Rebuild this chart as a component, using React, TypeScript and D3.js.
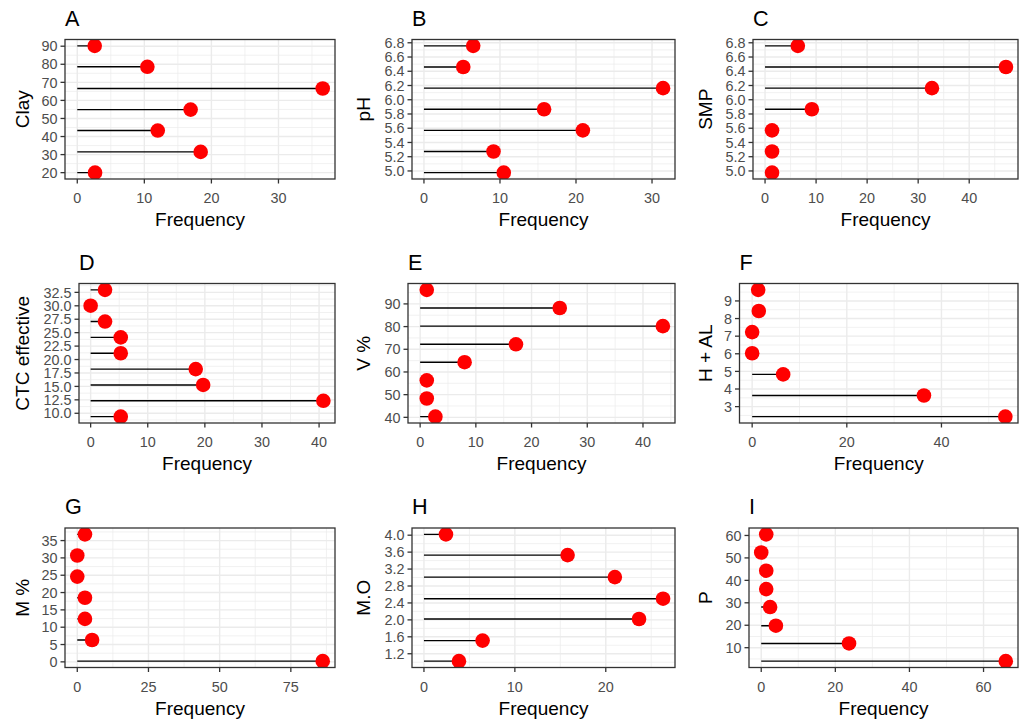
import React from 'react';
import * as d3 from 'd3';

// A - Clay
const clayMid = [20.0, 31.5, 43.3, 54.9, 66.6, 78.6, 90.2];
const clayFreq = [2.65, 18.4, 12.0, 16.9, 36.6, 10.45, 2.6];
const clayTicks = ['20', '30', '40', '50', '60', '70', '80', '90'];
const clayFreqTicks = ['0', '10', '20', '30'];

// B - pH
const phMid = [4.976, 5.273, 5.57, 5.866, 6.163, 6.46, 6.757];
const phFreq = [10.5, 9.15, 20.9, 15.8, 31.45, 5.17, 6.48];
const phTicks = ['5.0', '5.2', '5.4', '5.6', '5.8', '6.0', '6.2', '6.4', '6.6', '6.8'];
const phFreqTicks = ['0', '10', '20', '30'];

// C - SMP
const smpMid = [4.976, 5.273, 5.57, 5.866, 6.163, 6.46, 6.757];
const smpFreq = [1.37, 1.37, 1.37, 9.17, 32.7, 47.2, 6.42];
const smpTicks = ['5.0', '5.2', '5.4', '5.6', '5.8', '6.0', '6.2', '6.4', '6.6', '6.8'];
const smpFreqTicks = ['0', '10', '20', '30', '40'];

// D - CTC effective
const ctcMid = [9.37, 12.32, 15.27, 18.22, 21.17, 24.12, 27.07, 30.02, 32.97];
const ctcFreq = [5.27, 40.75, 19.7, 18.4, 5.27, 5.27, 2.52, 0, 2.52];
const ctcTicks = ['10.0', '12.5', '15.0', '17.5', '20.0', '22.5', '25.0', '27.5', '30.0', '32.5'];
const ctcFreqTicks = ['0', '10', '20', '30', '40'];

// E - V %
const vMid = [40.3, 48.3, 56.3, 64.3, 72.2, 80.2, 88.2, 96.2];
const vFreq = [2.74, 1.19, 1.19, 7.98, 17.2, 43.57, 25.06, 1.19];
const vTicks = ['40', '50', '60', '70', '80', '90'];
const vFreqTicks = ['0', '10', '20', '30', '40'];

// F - H + AL
const halMid = [2.43, 3.63, 4.83, 6.03, 7.23, 8.43, 9.63];
const halFreq = [53.5, 36.3, 6.55, 0, 0, 1.4, 1.27];
const halTicks = ['3', '4', '5', '6', '7', '8', '9'];
const halFreqTicks = ['0', '20', '40'];

// G - M %
const mMid = [0.2, 6.3, 12.4, 18.5, 24.6, 30.7, 36.8];
const mFreq = [86.2, 5.2, 2.7, 2.7, 0, 0, 2.7];
const mTicks = ['0', '5', '10', '15', '20', '25', '30', '35'];
const mFreqTicks = ['0', '25', '50', '75'];

// H - M.O
const moMid = [1.025, 1.51, 2.02, 2.5, 3.01, 3.53, 4.02];
const moFreq = [3.85, 6.45, 23.66, 26.3, 21.0, 15.8, 2.42];
const moTicks = ['1.2', '1.6', '2.0', '2.4', '2.8', '3.2', '3.6', '4.0'];
const moFreqTicks = ['0', '10', '20'];

// I - P
const pMid = [4.0, 11.9, 19.8, 28.1, 36.1, 44.3, 52.4, 60.5];
const pFreq = [66.0, 23.7, 3.96, 2.4, 1.35, 1.35, 0, 1.35];
const pTicks = ['10', '20', '30', '40', '50', '60'];
const pFreqTicks = ['0', '20', '40', '60'];

const FONT = '"Liberation Sans", Arial, Helvetica, sans-serif';
const CELL_W = 1025 / 3;

const panels = [
  { tag: 'A', label: 'Clay', mid: clayMid, freq: clayFreq, yTicks: clayTicks, xTicks: clayFreqTicks, col: 0, x0: 65, x1: 335, y0: 39.5, y1: 179 },
  { tag: 'B', label: 'pH', mid: phMid, freq: phFreq, yTicks: phTicks, xTicks: phFreqTicks, col: 1, x0: 412, x1: 675, y0: 39.5, y1: 179 },
  { tag: 'C', label: 'SMP', mid: smpMid, freq: smpFreq, yTicks: smpTicks, xTicks: smpFreqTicks, col: 2, x0: 753, x1: 1018, y0: 39.5, y1: 179 },
  { tag: 'D', label: 'CTC effective', mid: ctcMid, freq: ctcFreq, yTicks: ctcTicks, xTicks: ctcFreqTicks, col: 0, x0: 79, x1: 335, y0: 283.5, y1: 423 },
  { tag: 'E', label: 'V %', mid: vMid, freq: vFreq, yTicks: vTicks, xTicks: vFreqTicks, col: 1, x0: 408, x1: 675, y0: 283.5, y1: 423 },
  { tag: 'F', label: 'H + AL', mid: halMid, freq: halFreq, yTicks: halTicks, xTicks: halFreqTicks, col: 2, x0: 739.5, x1: 1018, y0: 283.5, y1: 423 },
  { tag: 'G', label: 'M %', mid: mMid, freq: mFreq, yTicks: mTicks, xTicks: mFreqTicks, col: 0, x0: 65, x1: 335, y0: 528, y1: 667.5 },
  { tag: 'H', label: 'M.O', mid: moMid, freq: moFreq, yTicks: moTicks, xTicks: moFreqTicks, col: 1, x0: 412, x1: 675, y0: 528, y1: 667.5 },
  { tag: 'I', label: 'P', mid: pMid, freq: pFreq, yTicks: pTicks, xTicks: pFreqTicks, col: 2, x0: 749, x1: 1018, y0: 528, y1: 667.5 },
];

// ggplot-style 5% expansion
const expand = (lo: number, hi: number) => {
  const d = (hi - lo) * 0.05;
  return [lo - d, hi + d];
};

const minorBreaks = (major: number[], domain: number[]) => {
  const step = major[1] - major[0];
  const out: number[] = [];
  for (let i = -1; i < major.length; i++) {
    const v = major[0] + step * (i + 0.5);
    if (v >= domain[0] && v <= domain[1]) out.push(v);
  }
  return out;
};

const Panel = ({ p, idx }: { p: any; idx: number }) => {
  const xDom = expand(0, d3.max(p.freq as number[])!);
  const yExt = d3.extent(p.mid as number[]) as [number, number];
  const yDom = expand(yExt[0], yExt[1]);
  const x = d3.scaleLinear().domain(xDom).range([p.x0, p.x1]);
  const y = d3.scaleLinear().domain(yDom).range([p.y1, p.y0]);
  const xMajor = p.xTicks.map(Number);
  const yMajor = p.yTicks.map(Number);
  const xMinor = minorBreaks(xMajor, xDom);
  const yMinor = minorBreaks(yMajor, yDom);
  const clipId = `clip-${idx}`;
  const cellX = p.col * CELL_W;

  return (
    <g>
      <defs>
        <clipPath id={clipId}>
          <rect x={p.x0} y={p.y0} width={p.x1 - p.x0} height={p.y1 - p.y0} />
        </clipPath>
      </defs>
      <rect x={p.x0} y={p.y0} width={p.x1 - p.x0} height={p.y1 - p.y0} fill="#fff" />
      <g stroke="#EBEBEB">
        {xMinor.map((v: number) => (
          <line key={'xm' + v} x1={x(v)} x2={x(v)} y1={p.y0} y2={p.y1} strokeWidth={0.7} />
        ))}
        {yMinor.map((v: number) => (
          <line key={'ym' + v} y1={y(v)} y2={y(v)} x1={p.x0} x2={p.x1} strokeWidth={0.7} />
        ))}
        {xMajor.map((v: number) => (
          <line key={'xM' + v} x1={x(v)} x2={x(v)} y1={p.y0} y2={p.y1} strokeWidth={1.4} />
        ))}
        {yMajor.map((v: number) => (
          <line key={'yM' + v} y1={y(v)} y2={y(v)} x1={p.x0} x2={p.x1} strokeWidth={1.4} />
        ))}
      </g>
      <g clipPath={`url(#${clipId})`}>
        {p.mid.map((m: number, i: number) => (
          <line key={'s' + i} x1={x(0)} x2={x(p.freq[i])} y1={y(m)} y2={y(m)} stroke="#000" strokeWidth={1.4} />
        ))}
        {p.mid.map((m: number, i: number) => (
          <circle key={'c' + i} cx={x(p.freq[i])} cy={y(m)} r={7.3} fill="#FF0000" />
        ))}
      </g>
      <rect x={p.x0} y={p.y0} width={p.x1 - p.x0} height={p.y1 - p.y0} fill="none" stroke="#333333" strokeWidth={1.3} />
      {/* y axis */}
      {p.yTicks.map((t: string) => (
        <g key={'yt' + t}>
          <line x1={p.x0 - 4.5} x2={p.x0} y1={y(Number(t))} y2={y(Number(t))} stroke="#333333" strokeWidth={1.3} />
          <text x={p.x0 - 7.5} y={y(Number(t))} dy="0.36em" textAnchor="end" fontSize={14.4} fill="#4D4D4D" fontFamily={FONT}>{t}</text>
        </g>
      ))}
      {/* x axis */}
      {p.xTicks.map((t: string) => (
        <g key={'xt' + t}>
          <line x1={x(Number(t))} x2={x(Number(t))} y1={p.y1} y2={p.y1 + 4.5} stroke="#333333" strokeWidth={1.3} />
          <text x={x(Number(t))} y={p.y1 + 24} textAnchor="middle" fontSize={14.4} fill="#4D4D4D" fontFamily={FONT}>{t}</text>
        </g>
      ))}
      <text x={(p.x0 + p.x1) / 2} y={p.y1 + 47} textAnchor="middle" fontSize={19} fill="#000" fontFamily={FONT}>Frequency</text>
      <text transform={`translate(${cellX + 28.5},${(p.y0 + p.y1) / 2}) rotate(-90)`} textAnchor="middle" fontSize={19} fill="#000" fontFamily={FONT}>{p.label}</text>
      <text x={p.x0} y={p.y0 - 14} fontSize={21.6} fill="#000" fontFamily={FONT}>{p.tag}</text>
    </g>
  );
};

export default function App() {
  return (
    <svg width={1025} height={721} style={{ position: 'absolute', left: 0, top: 0, background: '#fff' }}>
      <rect width={1025} height={721} fill="#fff" />
      {panels.map((p, i) => (
        <Panel key={p.tag} p={p} idx={i} />
      ))}
    </svg>
  );
}
